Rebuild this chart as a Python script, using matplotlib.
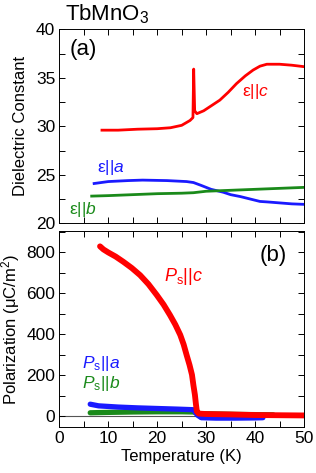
import numpy as np
import matplotlib
matplotlib.use('Agg')
from matplotlib import pyplot as plt
from matplotlib.ticker import MultipleLocator

plt.rcParams['font.family'] = ['Liberation Sans', 'DejaVu Sans']
plt.rcParams['mathtext.fontset'] = 'custom'
plt.rcParams['mathtext.rm'] = 'Liberation Sans'
plt.rcParams['mathtext.it'] = 'Liberation Sans:italic'
plt.rcParams['font.size'] = 12

# (a) dielectric constant vs temperature
T_ec = [8.7, 12, 16, 20, 22.7, 25, 26.7, 27.3, 27.45, 27.65, 28.1, 29.5, 31, 32.8, 34.5, 36.2, 38, 39.6, 41, 42.4, 45, 47.5, 50]
eps_c = [29.6, 29.6, 29.7, 29.75, 29.85, 30.1, 30.6, 30.9, 35.9, 31.6, 31.3, 31.6, 32.1, 32.7, 33.5, 34.4, 35.2, 35.8, 36.2, 36.4, 36.4, 36.3, 36.15]
T_ea = [7.1, 10, 14, 17, 22, 26, 27.4, 29, 31, 33.5, 35, 37, 39, 41, 42.5, 45, 47.5, 50]
eps_a = [24.1, 24.3, 24.4, 24.45, 24.4, 24.3, 24.2, 23.9, 23.5, 23.2, 22.95, 22.75, 22.5, 22.25, 22.2, 22.1, 22.0, 21.95]
T_eb = [6.6, 10, 15, 20, 25, 27.4, 30, 35, 40, 45, 50]
eps_b = [22.8, 22.85, 22.95, 23.05, 23.1, 23.15, 23.3, 23.4, 23.5, 23.6, 23.7]

# (b) spontaneous polarization vs temperature
T_pc = [8.3, 9, 10, 11.5, 13.1, 14.8, 16.5, 18.2, 19.9, 21.3, 22.6, 23.7, 24.7, 25.4, 26.0, 26.6, 27.1, 27.4, 27.7, 27.9, 28.1, 28.5, 30, 35, 40, 45, 50]
P_c = [830, 815, 800, 780, 754, 724, 689, 645, 592, 545, 494, 447, 397, 350, 299, 250, 202, 150, 104, 60, 22, 12, 10, 8, 5, 4, 3]
T_pa = [6.3, 8, 12, 16, 20, 24, 27.4, 28.2, 29, 32, 36, 40, 41.6]
P_a = [58, 50, 44, 40, 37, 34, 31, 5, -8, -10, -10, -9, -8]
T_pb = [6.3, 10, 15, 20, 25, 27.4, 28.5, 32, 36, 40, 43.7]
P_b = [16, 18, 20, 21, 21, 20, 12, 10, 8, 7, 6]

red = '#ff0000'
blue = '#1a1aff'
green = '#1a8a1a'

fig = plt.figure(figsize=(3.16, 4.73), dpi=100)
ax1 = fig.add_axes([0.188, 0.528, 0.774, 0.410])
ax2 = fig.add_axes([0.188, 0.0966, 0.774, 0.415])

ax1.plot(T_ec, eps_c, color=red, lw=2)
ax1.plot(T_ea, eps_a, color=blue, lw=2)
ax1.plot(T_eb, eps_b, color=green, lw=2)
ax1.set_xlim(0, 50)
ax1.set_ylim(20, 40)
ax1.set_ylabel('Dielectric Constant', labelpad=6)
ax1.yaxis.set_major_locator(MultipleLocator(5))
ax1.yaxis.set_minor_locator(MultipleLocator(2.5))
ax1.tick_params(labelbottom=False)
ax1.text(2.0, 37.9, '(a)', fontsize=16, va='center')
ax1.text(37.3, 33.6, r'ε||$\mathit{c}$', color=red, fontsize=12.5, va='center')
ax1.text(7.6, 25.8, r'ε||$\mathit{a}$', color=blue, fontsize=12.5, va='center')
ax1.text(2.0, 21.4, r'ε||$\mathit{b}$', color=green, fontsize=12.5, va='center')

ax2.axhline(0, color='#555555', lw=0.8, zorder=1)
ax2.plot(T_pb, P_b, color=green, lw=3.8, solid_capstyle='round', zorder=2)
ax2.plot(T_pa, P_a, color=blue, lw=3.8, solid_capstyle='round', zorder=2)
ax2.plot(T_pc, P_c, color=red, lw=4.2, solid_capstyle='round', solid_joinstyle='round', zorder=3)
ax2.set_xlim(0, 50)
ax2.set_ylim(-55, 905)
ax2.set_xlabel('Temperature (K)', labelpad=2)
ax2.set_ylabel(r'Polarization (μC/m$^2$)', labelpad=3)
ax2.yaxis.set_major_locator(MultipleLocator(200))
ax2.yaxis.set_minor_locator(MultipleLocator(100))
ax2.text(41, 787, '(b)', fontsize=16, va='center')
ax2.text(21.3, 681, r'$\mathit{P}_\mathrm{s}$||$\mathit{c}$', color=red, fontsize=13, va='center')
ax2.text(4.6, 258, r'$\mathit{P}_\mathrm{s}$||$\mathit{a}$', color=blue, fontsize=12.5, va='center')
ax2.text(4.6, 158, r'$\mathit{P}_\mathrm{s}$||$\mathit{b}$', color=green, fontsize=12.5, va='center')

for ax in (ax1, ax2):
    ax.xaxis.set_major_locator(MultipleLocator(10))
    ax.xaxis.set_minor_locator(MultipleLocator(5))
    ax.tick_params(which='both', direction='in', top=True, right=True, labelsize=12.5)
    ax.tick_params(which='major', length=4, width=0.7, pad=3)
    ax.tick_params(which='minor', length=4, width=0.7)
    for s in ax.spines.values():
        s.set_linewidth(0.7)

fig.align_ylabels([ax1, ax2])
fig.text(0.205, 0.995, r'TbMnO$_3$', fontsize=16, va='top')

fig.savefig('out.png', dpi=100)
